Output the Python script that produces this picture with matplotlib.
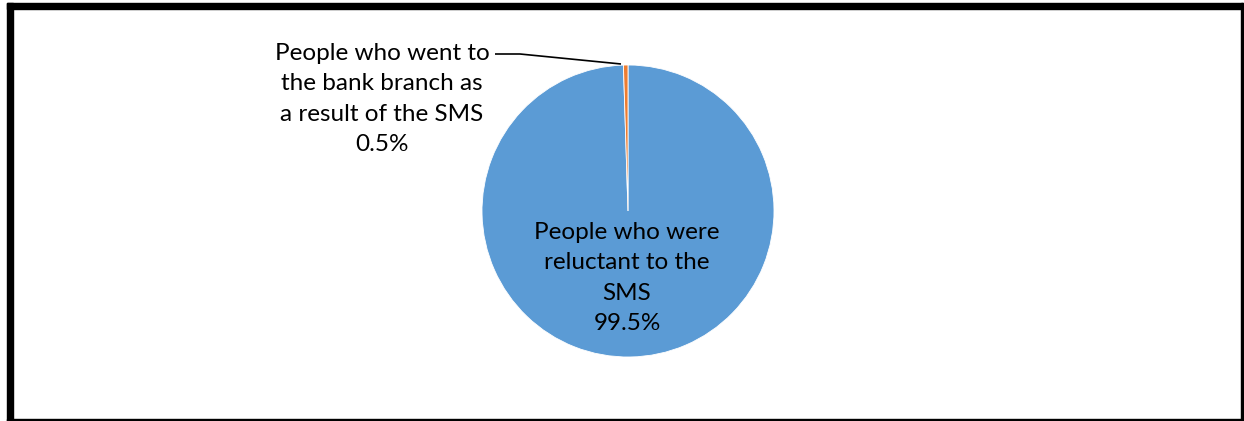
import matplotlib.pyplot as plt
from matplotlib.patches import Rectangle

# SMS campaign outcome
labels = ['People who were\nreluctant to the\nSMS',
          'People who went to\nthe bank branch as\na result of the SMS']
shares = [99.5, 0.5]
colors = ['#5B9BD5', '#ED7D31']

W, H = 1244, 421
fig = plt.figure(figsize=(W / 100, H / 100), dpi=100)
ax = fig.add_axes([0, 0, 1, 1])

cx, cy, r = 628, H - 211, 146
ax.pie(shares, colors=colors, startangle=90, counterclock=False,
       center=(cx, cy), radius=r, frame=True,
       wedgeprops=dict(edgecolor='white', linewidth=0.6))
ax.set_xlim(0, W)
ax.set_ylim(0, H)
ax.axis('off')

font = dict(family=['Lato', 'DejaVu Sans'], fontsize=17.5, color='black',
            ha='center', va='center', multialignment='center', linespacing=1.55)

ax.text(627, H - 278, f"{labels[0]}\n{shares[0]}%", **font)
ax.text(382, H - 99, f"{labels[1]}\n{shares[1]}%", **font)

# leader line to the small slice
ax.plot([495, 520, 621], [H - 54, H - 54, H - 64], color='black', lw=1.2,
        solid_capstyle='butt')

# frame around the chart area
for x0, y0, w, h in [(7, 0, 6, H - 3), (7, H - 9, W - 8, 6),
                     (1241, 0, 2, H - 3), (7, 0, W - 8, 2)]:
    fig.patches.append(Rectangle((x0 / W, y0 / H), w / W, h / H,
                                 transform=fig.transFigure, color='black'))

fig.savefig('out.png', dpi=100)
